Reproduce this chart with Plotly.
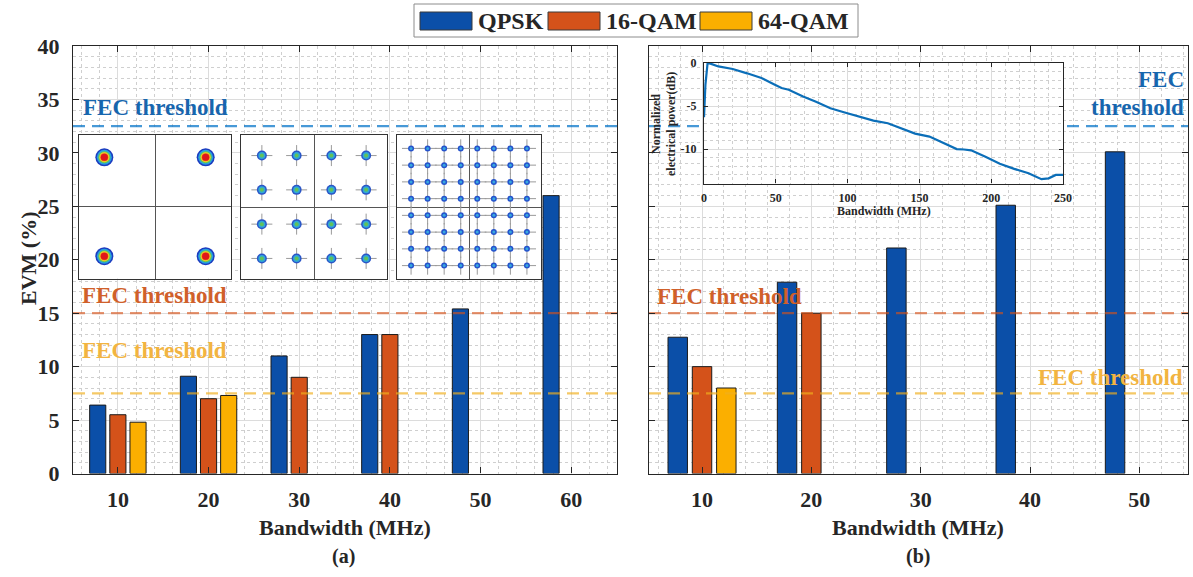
import plotly.graph_objects as go

W, H = 1193, 577

# ---------------- data ----------------
bandwidth_a = [10, 20, 30, 40, 50, 60]
evm_a_qpsk = [6.4, 9.1, 11.0, 13.0, 15.4, 26.0]
evm_a_16qam = [5.5, 7.0, 9.0, 13.0, None, None]
evm_a_64qam = [4.8, 7.3, None, None, None, None]

bandwidth_b = [10, 20, 30, 40, 50]
evm_b_qpsk = [12.75, 17.9, 21.1, 25.1, 30.1]
evm_b_16qam = [10.0, 15.0, None, None, None]
evm_b_64qam = [8.0, None, None, None, None]

fec_qpsk = 32.5
fec_16qam = 15.0
fec_64qam = 7.5

# frequency response of the link (inset of panel b)
resp_freq = [0, 1, 2.5, 5, 10, 20, 30, 40, 49, 54, 59, 69, 78, 88, 98, 108, 118,
             128, 137, 147, 157, 167, 176, 181, 186, 196, 206, 216, 226, 235,
             240, 245, 250]
resp_db = [-6.3, -2.5, 0.0, -0.1, -0.4, -0.7, -1.2, -1.75, -2.5, -2.9, -3.1,
           -3.9, -4.5, -5.25, -5.75, -6.2, -6.7, -7.0, -7.6, -8.2, -8.55, -9.3,
           -10.0, -10.05, -10.15, -10.9, -11.7, -12.3, -12.8, -13.5, -13.4,
           -13.0, -13.0]

qpsk_levels = [-1, 1]
qam16_levels = [-3, -1, 1, 3]
qam64_levels = [-7, -5, -3, -1, 1, 3, 5, 7]

# ---------------- styling ----------------
C_QPSK = "#0b4fa8"
C_16 = "#d4521a"
C_64 = "#fbaf00"
FONT = "Liberation Serif"
INK = "#262626"

X_RANGE_A = [5.05, 65.05]
X_RANGE_B = [5.15, 54.45]
Y_RANGE = [0, 40]


def px(x):
    return x / W


def py(y):
    return 1 - y / H


fig = go.Figure()

# ---------------- bars ----------------
for xa, ya, series in (("x", "y", (evm_a_qpsk, evm_a_16qam, evm_a_64qam)),
                       ("x2", "y2", (evm_b_qpsk, evm_b_16qam, evm_b_64qam))):
    xs = bandwidth_a if xa == "x" else bandwidth_b
    for vals, col, name in zip(series, (C_QPSK, C_16, C_64),
                               ("QPSK", "16-QAM", "64-QAM")):
        fig.add_trace(go.Bar(x=xs, y=vals, name=name, xaxis=xa, yaxis=ya,
                             marker=dict(color=col,
                                         line=dict(color="#1a1a1a", width=1)),
                             showlegend=False))

# ---------------- FEC threshold lines ----------------
thr_styles = ((fec_qpsk, "rgba(0,114,200,0.72)"),
              (fec_16qam, "rgba(217,83,25,0.62)"),
              (fec_64qam, "rgba(240,175,30,0.68)"))
for xa, ya, rng in (("x", "y", X_RANGE_A), ("x2", "y2", X_RANGE_B)):
    for val, col in thr_styles:
        fig.add_trace(go.Scatter(x=rng, y=[val, val], mode="lines",
                                 xaxis=xa, yaxis=ya, showlegend=False,
                                 line=dict(color=col, width=2.2,
                                           dash="12px,7px"),
                                 hoverinfo="skip"))

# ---------------- constellation insets ----------------
def grid_points(levels):
    return ([i for i in levels for q in levels],
            [q for i in levels for q in levels])


qpsk_layers = [(18, "#1c3cc0"), (15, "#27a0e0"), (12, "#6cc84c"),
               (10, "#f0d22a"), (8, "#f06a1c"), (7, "#e0161a")]
qam16_layers = [(10, "#2a55c8"), (7, "#2fa8d8"), (4, "#62c25a")]
qam64_layers = [(6, "#2552cc"), (3, "#38a8e0")]

for ax, levels, layers, cross in (("3", qpsk_levels, qpsk_layers, 0),
                                  ("4", qam16_levels, qam16_layers, 15),
                                  ("5", qam64_levels, qam64_layers, 13)):
    xs, ys = grid_points(levels)
    if cross:
        fig.add_trace(go.Scatter(x=xs, y=ys, mode="markers",
                                 xaxis="x" + ax, yaxis="y" + ax,
                                 showlegend=False, hoverinfo="skip",
                                 marker=dict(symbol="cross-thin", size=cross,
                                             color="#9a9a9a",
                                             line=dict(color="#9a9a9a",
                                                       width=1))))
    for size, col in layers:
        fig.add_trace(go.Scatter(x=xs, y=ys, mode="markers",
                                 xaxis="x" + ax, yaxis="y" + ax,
                                 showlegend=False, hoverinfo="skip",
                                 marker=dict(size=size, color=col,
                                             line=dict(width=0))))

# ---------------- frequency response inset ----------------
fig.add_trace(go.Scatter(x=resp_freq, y=resp_db, mode="lines",
                         xaxis="x6", yaxis="y6", showlegend=False,
                         line=dict(color="#0b6eb8", width=2.2),
                         hoverinfo="skip"))

# ---------------- axes ----------------
grid_major = "#dcdcdc"
grid_minor = "#cfcfcf"
tickfont = dict(family=FONT, size=22, color=INK, weight="bold")

main_x = dict(tickmode="linear", dtick=10, ticks="inside", ticklen=6,
              tickcolor=INK, showline=True, linecolor=INK, linewidth=1.2,
              mirror="ticks", showgrid=True, gridcolor=grid_major,
              gridwidth=1, zeroline=False, tickfont=tickfont,
              ticklabelstandoff=6, automargin=False,
              minor=dict(dtick=2, showgrid=True, gridcolor=grid_minor,
                         griddash="dot", gridwidth=1),
              fixedrange=True)
main_y = dict(range=Y_RANGE, tickmode="linear", dtick=5, ticks="inside",
              ticklen=6, tickcolor=INK, showline=True, linecolor=INK,
              linewidth=1.2, mirror="ticks", showgrid=True,
              gridcolor=grid_major, gridwidth=1, zeroline=False,
              tickfont=tickfont, ticklabelstandoff=8, automargin=False,
              minor=dict(dtick=1, showgrid=True, gridcolor=grid_minor,
                         griddash="dot", gridwidth=1),
              fixedrange=True)

y_dom = [py(473.5), py(46)]
fig.update_layout(
    xaxis=dict(main_x, domain=[px(73), px(617)], range=X_RANGE_A,
               anchor="y"),
    yaxis=dict(main_y, domain=y_dom, anchor="x"),
    xaxis2=dict(main_x, domain=[px(649), px(1188)], range=X_RANGE_B,
                anchor="y2"),
    yaxis2=dict(main_y, domain=y_dom, anchor="x2", showticklabels=False),
)

inset_boxes = {
    "3": ([79, 231], [135, 278.5], [-1.5, 1.5], [-1.45, 1.45]),
    "4": ([241, 387], [135, 279], [-4.2, 4.2], [-4.2, 4.2]),
    "5": ([397, 541], [135, 279], [-8.7, 8.7], [-8.6, 8.6]),
}
for ax, (xd, yd, xr, yr) in inset_boxes.items():
    common = dict(showline=True, mirror=True, linecolor="#333333",
                  linewidth=1.4, showgrid=False, zeroline=True,
                  zerolinecolor="#555555", zerolinewidth=1,
                  showticklabels=False, ticks="", fixedrange=True,
                  automargin=False)
    fig.update_layout({
        "xaxis" + ax: dict(common, domain=[px(xd[0]), px(xd[1])], range=xr,
                           anchor="y" + ax),
        "yaxis" + ax: dict(common, domain=[py(yd[1]), py(yd[0])], range=yr,
                           anchor="x" + ax),
    })

small_font = dict(family=FONT, size=12, color=INK, weight="bold")
inset_common = dict(ticks="inside", ticklen=4, tickcolor=INK, showline=True,
                    linecolor=INK, linewidth=1.2, mirror="ticks",
                    showgrid=True, gridcolor=grid_major, zeroline=False,
                    tickfont=small_font, fixedrange=True, automargin=False)
fig.update_layout(
    xaxis6=dict(inset_common, domain=[px(704), px(1063)], range=[0, 250],
                tickmode="linear", dtick=50, anchor="y6",
                ticklabelstandoff=3,
                minor=dict(dtick=10, showgrid=True, gridcolor=grid_minor,
                           griddash="dot")),
    yaxis6=dict(inset_common, domain=[py(183.5), py(63)], range=[-14, 0],
                tickvals=[-10, -5, 0], ticktext=["-10", "-5", "0"],
                anchor="x6", ticklabelstandoff=4,
                minor=dict(dtick=1, showgrid=True, gridcolor=grid_minor,
                           griddash="dot")),
)

# ---------------- text ----------------
ann = []


def label(text, x, y, size=22, color=INK, xanchor="center", angle=0,
          align="center"):
    ann.append(dict(text=text, x=px(x), y=py(y), xref="paper", yref="paper",
                    xanchor=xanchor, yanchor="middle", showarrow=False,
                    textangle=angle, align=align,
                    font=dict(family=FONT, size=size, color=color,
                              weight="bold")))


label("EVM (%)", 28, 259, angle=-90)
label("Bandwidth (MHz)", 345, 527)
label("Bandwidth (MHz)", 918, 527)
label("(a)", 343, 556, size=20)
label("(b)", 918, 556, size=20)

T_BLUE, T_ORANGE, T_YELLOW = "#1766ae", "#d0602a", "#f2b441"
label("FEC threshold", 81, 108, size=23, color=T_BLUE, xanchor="left")
label("FEC threshold", 80, 295, size=23, color=T_ORANGE, xanchor="left")
label("FEC threshold", 80, 350, size=23, color=T_YELLOW, xanchor="left")
label("FEC threshold", 655, 296, size=23, color=T_ORANGE, xanchor="left")
label("FEC threshold", 1185, 377, size=23, color=T_YELLOW, xanchor="right")
label("FEC", 1186, 80, size=23, color=T_BLUE, xanchor="right")
label("threshold", 1186, 107, size=23, color=T_BLUE, xanchor="right")

label("Normalized", 656, 124, size=12, angle=-90)
label("electrical power(dB)", 671, 124, size=12, angle=-90)
label("Bandwidth (MHz)", 884, 211, size=12)

# legend
shapes = [dict(type="rect", xref="paper", yref="paper", x0=px(414),
               x1=px(858), y0=py(37), y1=py(4),
               line=dict(color="#8c8c8c", width=1), fillcolor="white",
               layer="above")]
legend_items = (("QPSK", C_QPSK, 420, 472),
                ("16-QAM", C_16, 548, 600),
                ("64-QAM", C_64, 700, 752))
for name, col, x0, x1 in legend_items:
    shapes.append(dict(type="rect", xref="paper", yref="paper", x0=px(x0),
                       x1=px(x1), y0=py(30), y1=py(12), fillcolor=col,
                       line=dict(color="#3a3a3a", width=1), layer="above"))
    label(name, x1 + 4, 21, size=24, xanchor="left")

fig.update_layout(
    width=W, height=H,
    margin=dict(l=0, r=0, t=0, b=0, pad=0, autoexpand=False),
    paper_bgcolor="white", plot_bgcolor="white",
    barmode="group", bargap=1 / 3, bargroupgap=0.2,
    showlegend=False, annotations=ann, shapes=shapes,
)

fig.write_html("out.html")
